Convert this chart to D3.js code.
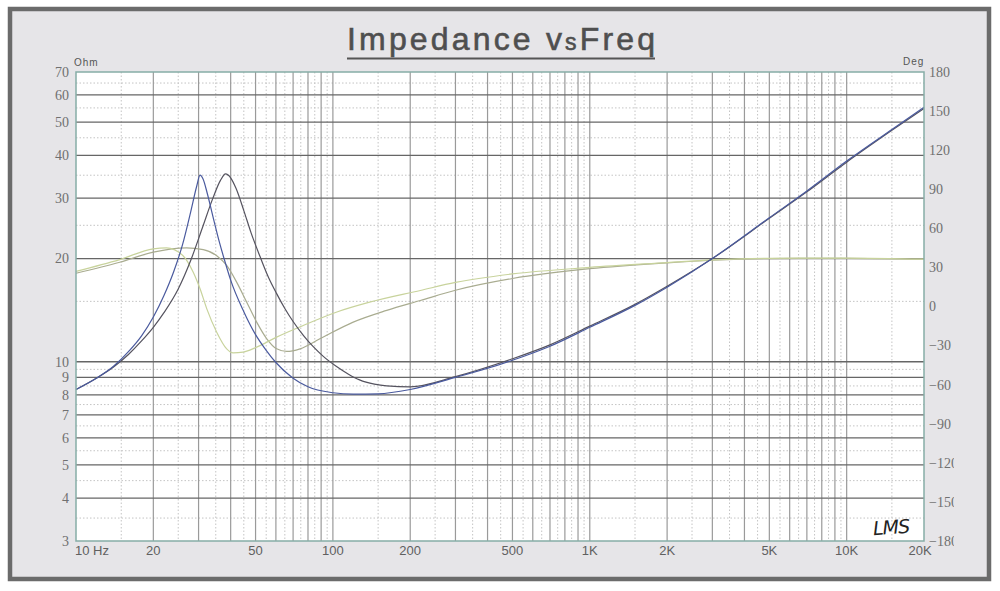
<!DOCTYPE html>
<html>
<head>
<meta charset="utf-8">
<script src="https://cdn.jsdelivr.net/npm/d3@7.9.0/dist/d3.min.js"></script>
<style>
  html, body { margin: 0; padding: 0; background: #fff; }
  svg { display: block; }
</style>
</head>
<body>
<svg id="chart"></svg>
<script>
const width = 1000;
const height = 591;

// Axis ticks and labels
const freqTicks = [10, 20, 50, 100, 200, 500, 1000, 2000, 5000, 10000, 20000];
const freqLabels = ["10 Hz", "20", "50", "100", "200", "500", "1K", "2K", "5K", "10K", "20K"];
const ohmTicks = [3, 4, 5, 6, 7, 8, 9, 10, 20, 30, 40, 50, 60, 70];
const degTicks = [-180, -150, -120, -90, -60, -30, 0, 30, 60, 90, 120, 150, 180];

// Impedance 1 (blue), [Hz, Ohm]
const imp1 = [
  [10, 8.3], [12, 8.95], [14, 9.7], [16, 10.7], [18, 11.9], [20, 13.5], [22, 15.6],
  [24, 18.3], [26, 22.0], [28, 27.5], [29.5, 32.5], [30.4, 35.0], [31.2, 34.2],
  [32.5, 30.8], [34, 26.8], [36, 22.6], [38, 19.6], [40, 17.3], [45, 14.0], [50, 12.0],
  [55, 10.8], [60, 9.95], [70, 8.95], [80, 8.45], [100, 8.12], [120, 8.04], [150, 8.06],
  [200, 8.3], [300, 9.0], [500, 10.1], [700, 11.1], [1000, 12.6], [1500, 14.6],
  [2000, 16.5], [3000, 20.0], [5000, 26.3], [7000, 31.5], [10000, 38.5], [15000, 47.6],
  [20000, 55.2]
];

// Impedance 2 (dark grey), [Hz, Ohm]
const imp2 = [
  [10, 8.3], [12, 8.95], [14, 9.65], [16, 10.5], [18, 11.5], [20, 12.6], [22, 13.9],
  [25, 16.3], [28, 19.8], [31, 24.5], [34, 29.8], [36.5, 33.8], [38.2, 35.3], [40, 34.4],
  [42, 32.0], [45, 27.6], [48, 23.8], [52, 20.3], [56, 17.7], [60.4, 15.8], [65, 14.3],
  [70, 13.1], [77, 11.9], [83.5, 11.1], [92, 10.35], [103, 9.7], [115, 9.2], [127, 8.85],
  [145, 8.6], [162, 8.5], [200, 8.45], [300, 9.05], [500, 10.2], [700, 11.2],
  [1000, 12.7], [1500, 14.7], [2000, 16.6], [3000, 20.0], [5000, 26.2], [7000, 31.3],
  [10000, 38.2], [15000, 47.3], [20000, 54.8]
];

// Phase 1 (light yellow-green), [Hz, Deg]
const phase1 = [
  [10, 27], [14.8, 36], [20, 44.3], [22.5, 45], [26.1, 39], [28.6, 26.3], [30.4, 13.6],
  [32.3, -1.8], [35.3, -19.7], [38.6, -32.5], [40.9, -35.6], [44.7, -35], [50.5, -31.2],
  [60.4, -23.5], [76.6, -14.6], [103, -4.4], [139, 3.3], [219, 12.3], [300, 18.5],
  [500, 25], [1000, 30], [2000, 33.7], [3000, 35.8], [5000, 37], [10000, 37.2], [20000, 36.3]
];

// Phase 2 (grey olive), [Hz, Deg]
const phase2 = [
  [10, 25.5], [14.8, 34], [20, 41.7], [26.9, 45], [31.3, 43.7], [35.3, 39], [38.6, 31.5],
  [42.2, 18.7], [46.2, 3.3], [50.5, -12], [55.3, -24.8], [60.4, -32.5], [66.1, -34.5],
  [74.5, -32.5], [89, -24.8], [120, -12], [162, -3], [219, 4.6], [300, 12.5],
  [500, 21.5], [1000, 29], [2000, 33.5], [3000, 35.5], [5000, 36.8], [10000, 37], [20000, 36.3]
];

const plot = { left: 76, right: 924, top: 72, bottom: 541 };

const svg = d3.select("#chart").attr("width", width).attr("height", height);

const x = d3.scaleLog().domain([10, 20000]).range([plot.left, plot.right]);
const yOhm = d3.scaleLog().domain([3, 70]).range([plot.bottom, plot.top]);
const yDeg = d3.scaleLinear().domain([-180, 180]).range([plot.bottom, plot.top]);

// Panel + frame
svg.append("rect")
  .attr("x", 10).attr("y", 9).attr("width", 979).attr("height", 570)
  .attr("fill", "#e6e5e8")
  .attr("stroke", "#6b6b6b").attr("stroke-width", 4.5);

// Title
const title = svg.append("text")
  .attr("x", 347).attr("y", 50)
  .attr("textLength", 308).attr("lengthAdjust", "spacing")
  .style("font-family", "Liberation Sans, Arial, sans-serif")
  .style("fill", "#4f4f4f")
  .style("stroke", "#4f4f4f").style("stroke-width", 0.6);
title.append("tspan").style("font-size", "32px").text("Impedance v");
title.append("tspan").style("font-size", "23px").text("s");
title.append("tspan").style("font-size", "32px").text("Freq");

svg.append("line")
  .attr("x1", 347).attr("x2", 655).attr("y1", 58.5).attr("y2", 58.5)
  .attr("stroke", "#555").attr("stroke-width", 2.2);

// Plot background
svg.append("rect")
  .attr("x", plot.left).attr("y", plot.top)
  .attr("width", plot.right - plot.left).attr("height", plot.bottom - plot.top)
  .attr("fill", "#fff");

const grid = svg.append("g");

// Vertical grid: solid at 1..9 per decade, dotted halfway between
const vSolid = [], vDot = [];
[10, 100, 1000, 10000].forEach(d => {
  for (let k = 1; k <= 9; k++) {
    if (k * d > 10 && k * d < 20000) vSolid.push(k * d);
    if ((k + 0.5) * d < 20000) vDot.push((k + 0.5) * d);
  }
});

// Horizontal grid
const hSolid = ohmTicks.filter(v => v > 3 && v < 70);
const hDot = [3.5, 4.5, 5.5, 6.5, 7.5, 8.5, 9.5, 15, 25, 35, 45, 55, 65];

grid.selectAll("line.vdot").data(vDot).join("line")
  .attr("x1", d => x(d)).attr("x2", d => x(d))
  .attr("y1", plot.top).attr("y2", plot.bottom)
  .attr("stroke", "#c4c4c4").attr("stroke-width", 1).attr("stroke-dasharray", "1.5,2");

grid.selectAll("line.hdot").data(hDot).join("line")
  .attr("x1", plot.left).attr("x2", plot.right)
  .attr("y1", d => yOhm(d)).attr("y2", d => yOhm(d))
  .attr("stroke", "#c4c4c4").attr("stroke-width", 1).attr("stroke-dasharray", "1.5,2");

grid.selectAll("line.vsolid").data(vSolid).join("line")
  .attr("x1", d => x(d)).attr("x2", d => x(d))
  .attr("y1", plot.top).attr("y2", plot.bottom)
  .attr("stroke", "#9a9a9a").attr("stroke-width", 1.2);

grid.selectAll("line.hsolid").data(hSolid).join("line")
  .attr("x1", plot.left).attr("x2", plot.right)
  .attr("y1", d => yOhm(d)).attr("y2", d => yOhm(d))
  .attr("stroke", "#666").attr("stroke-width", 1.3);

// Curves
const lineOhm = d3.line().x(d => x(d[0])).y(d => yOhm(d[1])).curve(d3.curveMonotoneX);
const lineDeg = d3.line().x(d => x(d[0])).y(d => yDeg(d[1])).curve(d3.curveMonotoneX);

const curves = svg.append("g").attr("fill", "none").attr("stroke-width", 1.2);
curves.append("path").attr("d", lineDeg(phase2)).attr("stroke", "#a9ac90");
curves.append("path").attr("d", lineDeg(phase1)).attr("stroke", "#c8d39c");
curves.append("path").attr("d", lineOhm(imp2)).attr("stroke", "#55535f");
curves.append("path").attr("d", lineOhm(imp1)).attr("stroke", "#4a5a9e");

// Plot border
svg.append("rect")
  .attr("x", plot.left).attr("y", plot.top)
  .attr("width", plot.right - plot.left).attr("height", plot.bottom - plot.top)
  .attr("fill", "none").attr("stroke", "#86ada6").attr("stroke-width", 1.5);

// Left axis labels
svg.append("g").selectAll("text").data(ohmTicks).join("text")
  .attr("x", 69).attr("y", d => yOhm(d)).attr("dy", "0.35em")
  .attr("text-anchor", "end")
  .style("font-family", "Liberation Serif, Times New Roman, serif")
  .style("font-size", "14px").style("fill", "#707070")
  .text(d => d);

// Right axis labels (clipped at the right, as in the source)
svg.append("clipPath").attr("id", "rclip")
  .append("rect").attr("x", 920).attr("y", 50).attr("width", 34).attr("height", 510);
svg.append("g").attr("clip-path", "url(#rclip)")
  .selectAll("text").data(degTicks).join("text")
  .attr("x", 929).attr("y", d => yDeg(d)).attr("dy", "0.35em")
  .style("font-family", "Liberation Serif, Times New Roman, serif")
  .style("font-size", "14px").style("fill", "#707070")
  .text(d => d < 0 ? "\u2212" + Math.abs(d) : d);

// Bottom axis labels
svg.append("g").selectAll("text").data(freqTicks).join("text")
  .attr("x", (d, i) => i === 0 ? plot.left - 1 : x(d) - (i === freqTicks.length - 1 ? 4 : 0))
  .attr("y", 555)
  .attr("text-anchor", (d, i) => i === 0 ? "start" : "middle")
  .style("font-family", "Liberation Sans, Arial, sans-serif")
  .style("font-size", "13px").style("fill", "#606060")
  .text((d, i) => freqLabels[i]);

// Unit labels
svg.append("text").attr("x", 74).attr("y", 66)
  .style("font-family", "Liberation Sans, Arial, sans-serif")
  .style("font-size", "10px").style("letter-spacing", "1px").style("fill", "#555")
  .text("Ohm");
svg.append("text").attr("x", 903).attr("y", 65)
  .style("font-family", "Liberation Sans, Arial, sans-serif")
  .style("font-size", "10px").style("letter-spacing", "1px").style("fill", "#555")
  .text("Deg");

// LMS mark
svg.append("text").attr("x", 873).attr("y", 534)
  .attr("transform", "rotate(-4, 890, 527)")
  .style("font-family", "DejaVu Sans, sans-serif").style("font-style", "italic")
  .style("font-size", "19px").style("letter-spacing", "-1px").style("fill", "#222")
  .text("LMS");
</script>
</body>
</html>
